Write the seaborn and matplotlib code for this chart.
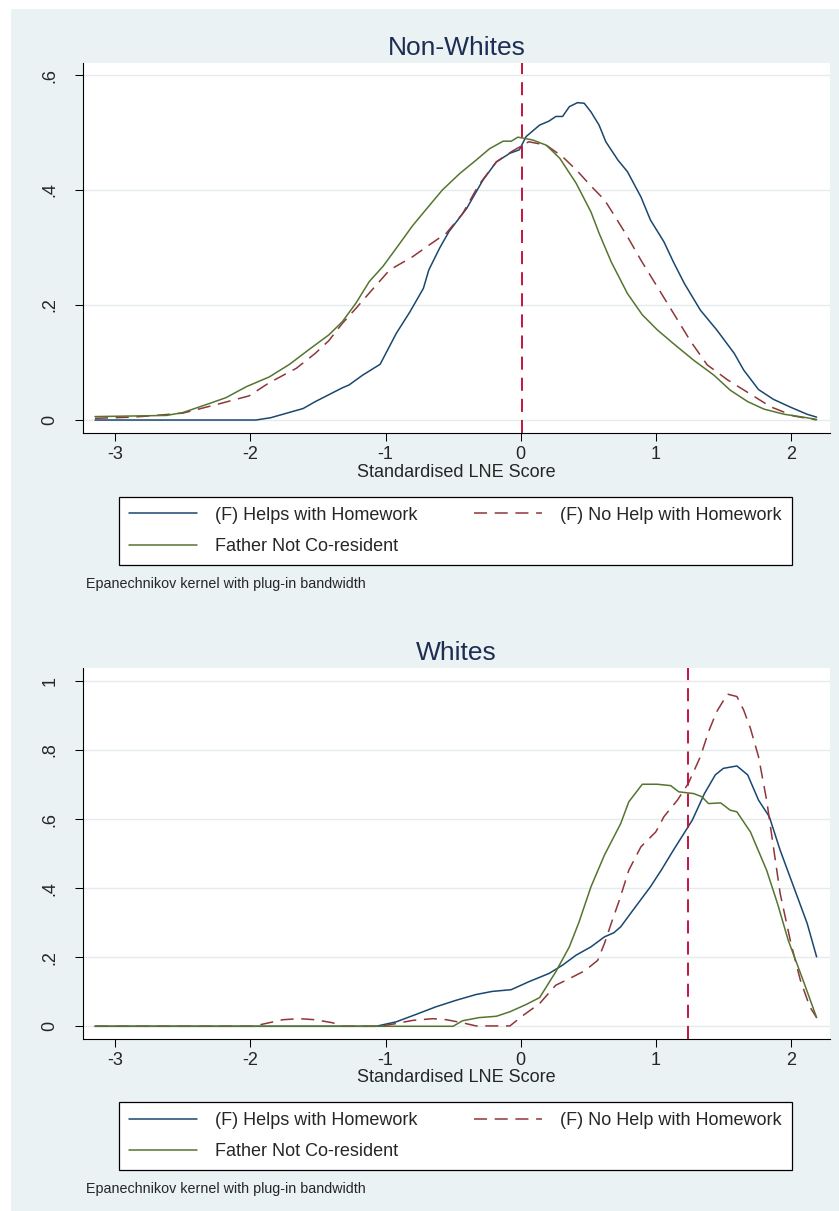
import matplotlib
matplotlib.use("Agg")
import matplotlib.pyplot as plt
import numpy as np
import pandas as pd
import seaborn as sns
from matplotlib.patches import Rectangle


# Kernel density curves (x = standardised LNE score)
NW_HELP_X = [-3.15, -2.5, -1.96, -1.85, -1.76, -1.61, -1.52, -1.42, -1.32, -1.27, -1.17, -1.04,
             -0.92, -0.82, -0.72, -0.68, -0.60, -0.53, -0.40, -0.28, -0.18, -0.08, -0.01, 0.04,
             0.14, 0.21, 0.26, 0.31, 0.36, 0.42, 0.47, 0.52, 0.58, 0.63, 0.72, 0.79, 0.89, 0.96,
             1.06, 1.13, 1.21, 1.33, 1.45, 1.58, 1.65, 1.76, 1.87, 2.00, 2.12, 2.19]
NW_HELP_Y = [0, 0, 0, 0.004, 0.010, 0.020, 0.032, 0.044, 0.056, 0.061, 0.078, 0.097,
             0.151, 0.188, 0.229, 0.261, 0.299, 0.328, 0.368, 0.417, 0.449, 0.464, 0.470, 0.493,
             0.513, 0.520, 0.528, 0.528, 0.545, 0.552, 0.551, 0.536, 0.513, 0.484, 0.452, 0.432,
             0.388, 0.348, 0.310, 0.275, 0.238, 0.191, 0.157, 0.116, 0.087, 0.053, 0.036, 0.022,
             0.010, 0.005]

NW_NOHELP_X = [-3.15, -2.87, -2.65, -2.50, -2.25, -2.01, -1.86, -1.66, -1.52, -1.42, -1.32, -1.22,
               -1.09, -0.97, -0.80, -0.68, -0.55, -0.43, -0.31, -0.18, -0.06, 0.06, 0.19, 0.31,
               0.42, 0.52, 0.62, 0.69, 0.79, 0.89, 1.01, 1.13, 1.26, 1.38, 1.53, 1.68, 1.85, 2.02,
               2.17, 2.19]
NW_NOHELP_Y = [0.003, 0.005, 0.009, 0.012, 0.027, 0.042, 0.065, 0.090, 0.116, 0.138, 0.168, 0.194,
               0.229, 0.261, 0.284, 0.304, 0.325, 0.359, 0.409, 0.449, 0.468, 0.484, 0.478, 0.458,
               0.433, 0.407, 0.383, 0.357, 0.319, 0.278, 0.232, 0.186, 0.136, 0.096, 0.070, 0.048,
               0.023, 0.007, 0.001, 0.000]

NW_NOFATHER_X = [-3.15, -2.87, -2.62, -2.50, -2.30, -2.18, -2.03, -1.86, -1.71, -1.57, -1.42, -1.32,
                 -1.22, -1.12, -1.02, -0.92, -0.80, -0.68, -0.58, -0.45, -0.33, -0.23, -0.13, -0.07,
                 -0.02, 0.09, 0.19, 0.29, 0.41, 0.52, 0.58, 0.67, 0.79, 0.90, 1.01, 1.13, 1.28, 1.43,
                 1.55, 1.68, 1.80, 1.95, 2.09, 2.19]
NW_NOFATHER_Y = [0.006, 0.007, 0.008, 0.013, 0.029, 0.039, 0.058, 0.075, 0.097, 0.122, 0.148, 0.171,
                 0.203, 0.241, 0.267, 0.299, 0.338, 0.372, 0.400, 0.429, 0.452, 0.472, 0.485, 0.485,
                 0.492, 0.487, 0.478, 0.455, 0.412, 0.362, 0.325, 0.275, 0.220, 0.183, 0.157, 0.133,
                 0.104, 0.078, 0.052, 0.032, 0.019, 0.010, 0.005, 0.001]

W_HELP_X = [-3.15, -1.07, -0.92, -0.77, -0.63, -0.48, -0.33, -0.21, -0.07, 0.06, 0.21, 0.31, 0.41,
            0.52, 0.62, 0.69, 0.74, 0.84, 0.96, 1.04, 1.13, 1.27, 1.36, 1.44, 1.50, 1.60, 1.68,
            1.76, 1.84, 1.92, 2.02, 2.12, 2.19]
W_HELP_Y = [0, 0, 0.013, 0.035, 0.056, 0.075, 0.092, 0.101, 0.106, 0.129, 0.153, 0.177, 0.206,
            0.230, 0.259, 0.271, 0.288, 0.341, 0.404, 0.452, 0.510, 0.597, 0.674, 0.728, 0.747,
            0.754, 0.728, 0.655, 0.607, 0.510, 0.404, 0.298, 0.201]

W_NOHELP_X = [-3.15, -1.98, -1.76, -1.64, -1.52, -1.39, -1.32, -1.04, -0.92, -0.80, -0.65, -0.55,
              -0.43, -0.33, -0.08, 0.02, 0.14, 0.26, 0.36, 0.46, 0.51, 0.57, 0.62, 0.67, 0.73,
              0.80, 0.89, 1.00, 1.06, 1.16, 1.24, 1.33, 1.39, 1.45, 1.53, 1.60, 1.65, 1.70, 1.76,
              1.82, 1.87, 1.92, 2.00, 2.07, 2.14, 2.19]
W_NOHELP_Y = [0, 0, 0.019, 0.022, 0.019, 0.010, 0.0, 0, 0.008, 0.017, 0.022, 0.019,
              0.010, 0.001, 0.001, 0.032, 0.066, 0.119, 0.138, 0.158, 0.172, 0.191, 0.240, 0.298,
              0.365, 0.452, 0.520, 0.563, 0.607, 0.655, 0.703, 0.781, 0.853, 0.911, 0.962, 0.955,
              0.916, 0.863, 0.781, 0.655, 0.520, 0.385, 0.240, 0.133, 0.056, 0.025]

W_NOFATHER_X = [-3.15, -0.50, -0.43, -0.31, -0.18, -0.08, 0.04, 0.14, 0.26, 0.36, 0.43, 0.52, 0.62,
                0.74, 0.80, 0.90, 1.01, 1.11, 1.17, 1.28, 1.34, 1.39, 1.48, 1.55, 1.60, 1.70, 1.82,
                1.90, 1.98, 2.09, 2.19]
W_NOFATHER_Y = [0, 0, 0.016, 0.025, 0.029, 0.042, 0.063, 0.083, 0.158, 0.230, 0.300, 0.404, 0.496,
                0.587, 0.650, 0.701, 0.701, 0.697, 0.679, 0.674, 0.665, 0.645, 0.647, 0.626, 0.621,
                0.563, 0.452, 0.356, 0.249, 0.133, 0.025]

# Reference lines (group means)
NW_MEAN = 0.01
W_MEAN = 1.235

PANEL_TITLES = ["Non-Whites", "Whites"]
SERIES_LABELS = ["(F) Helps with Homework", "(F) No Help with Homework", "Father Not Co-resident"]
X_TICKS = [-3, -2, -1, 0, 1, 2]
NW_Y_TICKS = [0, 0.2, 0.4, 0.6]
NW_Y_LABELS = ["0", ".2", ".4", ".6"]
W_Y_TICKS = [0, 0.2, 0.4, 0.6, 0.8, 1.0]
W_Y_LABELS = ["0", ".2", ".4", ".6", ".8", "1"]
X_LABEL = "Standardised LNE Score"
NOTE = "Epanechnikov kernel with plug-in bandwidth"

# Stata s2color look
BG = "#eaf2f3"
GRID = "#e4ecef"
NAVY = "#1a476f"
MAROON = "#90353b"
GREEN = "#55752f"
XLINE = "#c4143c"
TITLE_COLOR = "#1e2d53"

W_PX, H_PX = 839, 1211


def fx(px):
    return px / W_PX


def fy(py):
    return 1 - py / H_PX


def draw_panel(fig, top_px, series, mean_x, y_ticks, y_labels, ylim, title):
    bottom_px = top_px + 370.3
    ax = fig.add_axes([fx(83), fy(bottom_px), fx(747), 370.3 / H_PX])
    ax.set_facecolor("white")

    curves = []
    for (xs, ys), color, dashed in zip(series, [NAVY, MAROON, GREEN], [False, True, False]):
        df = pd.DataFrame({"x": xs, "y": ys})
        n_before = len(ax.lines)
        sns.lineplot(
            data=df, x="x", y="y", ax=ax, color=color, linewidth=1.1,
            linestyle=(0, (9.4, 5.5)) if dashed else "-",
            estimator=None, sort=False, zorder=3,
        )
        curves.append(ax.lines[n_before])

    for ticky in y_ticks:
        ax.axhline(ticky, color=GRID, linewidth=1.0, zorder=0)

    ax.axvline(mean_x, color=XLINE, linewidth=1.4, linestyle=(0, (9.4, 5.8)), zorder=4)

    ax.set_xlim(-3.239, 2.289)
    ax.set_ylim(*ylim)
    ax.set_xticks(X_TICKS)
    ax.set_xticklabels([str(t) for t in X_TICKS])
    ax.set_yticks(y_ticks)
    ax.set_yticklabels(y_labels, rotation=90, va="center")
    ax.tick_params(axis="both", length=5.8, width=0.75, color="black", labelsize=13)
    ax.tick_params(axis="x", pad=3.6)
    ax.tick_params(axis="y", pad=12)
    for side in ["top", "right"]:
        ax.spines[side].set_visible(False)
    for side in ["left", "bottom"]:
        ax.spines[side].set_color("black")
        ax.spines[side].set_linewidth(0.8)
    ax.grid(False)
    ax.set_ylabel("")
    ax.set_xlabel(X_LABEL, fontsize=13, labelpad=0.5)

    fig.text(fx(456.5), fy(top_px - 8), title, ha="center", va="baseline",
             fontsize=19, color=TITLE_COLOR)

    # ncol=2 fills column-wise: Helps / Father in column 1, No Help in column 2
    handles = [curves[0], curves[2], curves[1]]
    labels = [SERIES_LABELS[0], SERIES_LABELS[2], SERIES_LABELS[1]]
    box_top = bottom_px + 63.4
    leg = fig.legend(
        handles, labels, ncol=2, mode="expand", loc="center",
        bbox_to_anchor=(fx(118.8), fy(box_top + 68.3), fx(673.2), 68.3 / H_PX),
        bbox_transform=fig.transFigure,
        fontsize=13, frameon=True, fancybox=False, shadow=False,
        handlelength=3.78, handletextpad=1.0, borderpad=0.55, labelspacing=0.8,
        borderaxespad=0,
    )
    leg.get_frame().set_edgecolor("black")
    leg.get_frame().set_linewidth(0.9)
    leg.get_frame().set_facecolor("white")
    leg.get_frame().set_alpha(1)

    fig.text(fx(85.6), fy(bottom_px + 150.7), NOTE, ha="left", va="center", fontsize=10.3)
    return ax


def main():
    sns.set_theme(style="ticks")
    plt.rcParams["font.family"] = ["Liberation Sans", "DejaVu Sans"]
    plt.rcParams["lines.scale_dashes"] = False

    fig = plt.figure(figsize=(W_PX / 100, H_PX / 100), dpi=100)
    fig.patch.set_facecolor("white")
    fig.patches.append(Rectangle((fx(11), 0), 1 - fx(11), fy(9), transform=fig.transFigure,
                                 facecolor=BG, edgecolor="none", zorder=-10))

    nonwhite = [(NW_HELP_X, NW_HELP_Y), (NW_NOHELP_X, NW_NOHELP_Y), (NW_NOFATHER_X, NW_NOFATHER_Y)]
    white = [(W_HELP_X, W_HELP_Y), (W_NOHELP_X, W_NOHELP_Y), (W_NOFATHER_X, W_NOFATHER_Y)]

    draw_panel(fig, 63.0, nonwhite, NW_MEAN, NW_Y_TICKS, NW_Y_LABELS, (-0.0231, 0.621), PANEL_TITLES[0])
    draw_panel(fig, 668.3, white, W_MEAN, W_Y_TICKS, W_Y_LABELS, (-0.0357, 1.0368), PANEL_TITLES[1])

    fig.savefig("out.png", dpi=100, facecolor=fig.get_facecolor())
    plt.close(fig)


if __name__ == "__main__":
    main()
